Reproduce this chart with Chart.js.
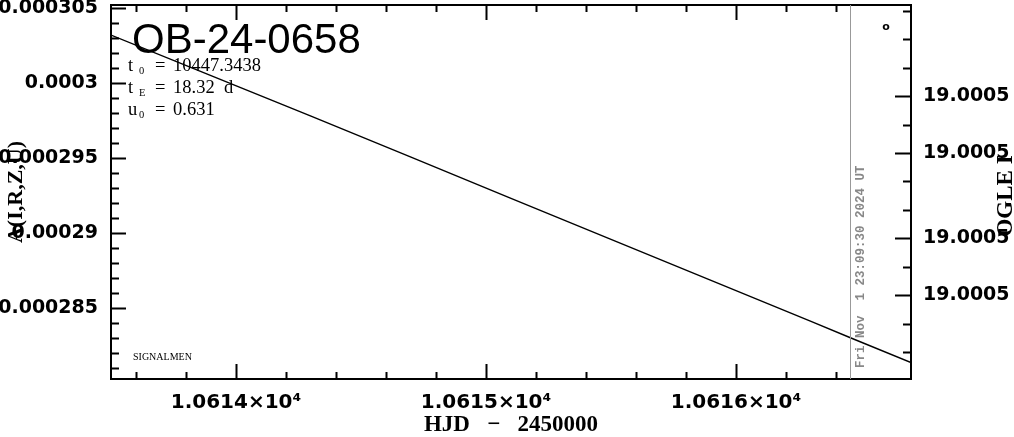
<!DOCTYPE html>
<html>
<head>
<meta charset="utf-8">
<script src="https://cdn.jsdelivr.net/npm/chart.js@4.4.1/dist/chart.umd.min.js"></script>
<style>
  html, body { margin: 0; padding: 0; background: #fff; }
  #wrap { width: 1014px; height: 437px; position: relative; }
</style>
</head>
<body>
<div id="wrap"><canvas id="lc"></canvas></div>
<script>
// light curve (HJD - 2450000, flux)
const hjd  = [10613.5, 10613.9, 10614.3, 10614.7, 10615.1, 10615.5, 10615.9, 10616.3, 10616.46, 10616.7];
const flux = [0.0003032, 0.0003005, 0.0002978, 0.00029507, 0.00029233, 0.0002896, 0.00028687, 0.00028413, 0.00028303, 0.0002814];

const xRange = [10613.5, 10616.7];
const yRange = [0.0002803, 0.0003052];
const magRange = [-0.21, 12.95];      // right axis, tick index
const magMajor = [3, 5, 8, 10];
const magLabel = '19.0005';

// tick positions (minor + major)
const xTicks = [];
for (let i = 1; i < 16; i++) xTicks.push(+(10613.4 + i * 0.2).toFixed(1));
const yTicks = [];
for (let i = 281; i <= 305; i++) yTicks.push(+(i * 1e-6).toFixed(6));
const magTicks = [];
for (let i = 0; i <= 12; i++) magTicks.push(i);

const eventName = 'OB-24-0658';
const params = [['t', '0', '10447.3438'], ['t', 'E', '18.32  d'], ['u', '0', '0.631']];
const nowHjd = 10616.456;
const nowText = 'Fri Nov  1 23:09:30 2024 UT';

const tickFont = { family: 'DejaVu Sans', weight: 'bold', size: 19 };

function isMajorX(v) { return Math.abs(v - Math.round(v)) < 1e-6; }
function isMajorY(v) { return Math.abs(v / 5e-6 - Math.round(v / 5e-6)) < 1e-4; }

function useTicks(vals) {
  return s => { s.ticks = vals.map(v => ({ value: v })); };
}

// frame, inward ticks and the extra labels
const decorations = {
  id: 'decorations',
  afterDraw(chart) {
    const { ctx, chartArea: a, scales } = chart;
    ctx.save();
    ctx.strokeStyle = '#000';
    ctx.lineWidth = 2;

    ctx.beginPath();
    scales.x.ticks.forEach(t => {
      const px = Math.round(scales.x.getPixelForValue(t.value)) + 0.5;
      const len = isMajorX(t.value) ? 15 : 7;
      ctx.moveTo(px, a.bottom); ctx.lineTo(px, a.bottom - len);
      ctx.moveTo(px, a.top); ctx.lineTo(px, a.top + len);
    });
    scales.y.ticks.forEach(t => {
      const py = Math.round(scales.y.getPixelForValue(t.value)) + 0.5;
      const len = isMajorY(t.value) ? 15 : 8;
      ctx.moveTo(a.left, py); ctx.lineTo(a.left + len, py);
    });
    scales.y2.ticks.forEach(t => {
      const py = Math.round(scales.y2.getPixelForValue(t.value)) + 0.5;
      const len = magMajor.includes(t.value) ? 16 : 8;
      ctx.moveTo(a.right, py); ctx.lineTo(a.right - len, py);
    });
    ctx.stroke();
    ctx.strokeRect(a.left, a.top, a.right - a.left, a.bottom - a.top);

    // current time marker
    const nx = Math.round(scales.x.getPixelForValue(nowHjd)) + 0.5;
    ctx.strokeStyle = '#999';
    ctx.lineWidth = 1;
    ctx.beginPath();
    ctx.moveTo(nx, a.top); ctx.lineTo(nx, a.bottom);
    ctx.stroke();
    ctx.save();
    ctx.translate(nx + 10, a.bottom - 11);
    ctx.rotate(-Math.PI / 2);
    ctx.fillStyle = '#888';
    ctx.font = 'bold 12.5px "Liberation Mono"';
    ctx.textAlign = 'left';
    ctx.textBaseline = 'middle';
    ctx.fillText(nowText, 0, 0);
    ctx.restore();

    // event name and model parameters
    ctx.fillStyle = '#000';
    ctx.textAlign = 'left';
    ctx.textBaseline = 'alphabetic';
    ctx.font = '42px "Liberation Sans"';
    ctx.fillText(eventName, a.left + 21, a.top + 48);

    params.forEach((p, i) => {
      const x = a.left + 17;
      const y = a.top + 66 + i * 22;
      ctx.font = '18.5px "Liberation Serif"';
      ctx.fillText(p[0], x, y);
      ctx.fillText('=', x + 27, y);
      ctx.fillText(p[2], x + 45, y);
      ctx.font = '10.5px "Liberation Serif"';
      ctx.fillText(p[1], x + 11, y + 3);
    });

    ctx.font = '10px "Liberation Serif"';
    ctx.fillText('SIGNALMEN', a.left + 22, a.bottom - 19);

    ctx.font = 'bold 11px "DejaVu Sans"';
    ctx.textAlign = 'center';
    ctx.fillText('o', a.right - 25, a.top + 25);

    // right axis title
    ctx.save();
    ctx.translate(1006, 196);
    ctx.rotate(-Math.PI / 2);
    ctx.font = 'bold 23px "Liberation Serif"';
    ctx.textAlign = 'center';
    ctx.textBaseline = 'middle';
    ctx.fillText('OGLE I', 0, 0);
    ctx.restore();

    ctx.restore();
  }
};

new Chart(document.getElementById('lc'), {
  type: 'line',
  data: {
    datasets: [{
      data: hjd.map((x, i) => ({ x: x, y: flux[i] })),
      borderColor: '#000',
      borderWidth: 1.4,
      pointRadius: 0,
      tension: 0,
      fill: false
    }]
  },
  options: {
    responsive: true,
    maintainAspectRatio: false,
    animation: false,
    events: [],
    layout: { padding: { top: 5, left: 0, right: 0, bottom: 0 } },
    plugins: { legend: { display: false }, tooltip: { enabled: false } },
    scales: {
      x: {
        type: 'linear',
        min: xRange[0],
        max: xRange[1],
        grid: { display: false, drawTicks: false },
        border: { display: false },
        afterBuildTicks: useTicks(xTicks),
        ticks: {
          autoSkip: false,
          maxRotation: 0,
          minRotation: 0,
          padding: 12,
          color: '#000',
          font: { family: 'DejaVu Sans', weight: 'bold', size: 20 },
          callback: v => isMajorX(v) ? (Math.round(v) / 1e4).toFixed(4) + '×10⁴' : ''
        },
        title: {
          display: true,
          text: 'HJD   −   2450000',
          color: '#000',
          font: { family: 'Liberation Serif', weight: 'bold', size: 23, lineHeight: 1 },
          padding: { top: 0, bottom: 0 }
        },
        afterFit: s => { s.height = 58; s.paddingLeft = 0; s.paddingRight = 0; }
      },
      y: {
        type: 'linear',
        position: 'left',
        min: yRange[0],
        max: yRange[1],
        grid: { display: false, drawTicks: false },
        border: { display: false },
        afterBuildTicks: useTicks(yTicks),
        ticks: {
          autoSkip: false,
          padding: 13,
          color: '#000',
          font: tickFont,
          callback: v => isMajorY(v) ? parseFloat(v.toPrecision(6)).toString() : ''
        },
        title: {
          display: true,
          text: 'A(I,R,Z,U)',
          color: '#000',
          font: { family: 'Liberation Serif', weight: 'bold', size: 22, lineHeight: 1 },
          padding: { top: 5, bottom: 0 }
        },
        afterFit: s => { s.width = 111; s.paddingTop = 0; s.paddingBottom = 0; }
      },
      y2: {
        type: 'linear',
        display: true,
        position: 'right',
        reverse: true,
        min: magRange[0],
        max: magRange[1],
        grid: { display: false, drawTicks: false },
        border: { display: false },
        afterBuildTicks: useTicks(magTicks),
        ticks: {
          autoSkip: false,
          padding: 12,
          color: '#000',
          font: tickFont,
          callback: v => magMajor.includes(v) ? magLabel : ''
        },
        afterFit: s => { s.width = 103; s.paddingTop = 0; s.paddingBottom = 0; }
      }
    }
  },
  plugins: [decorations]
});
</script>
</body>
</html>
